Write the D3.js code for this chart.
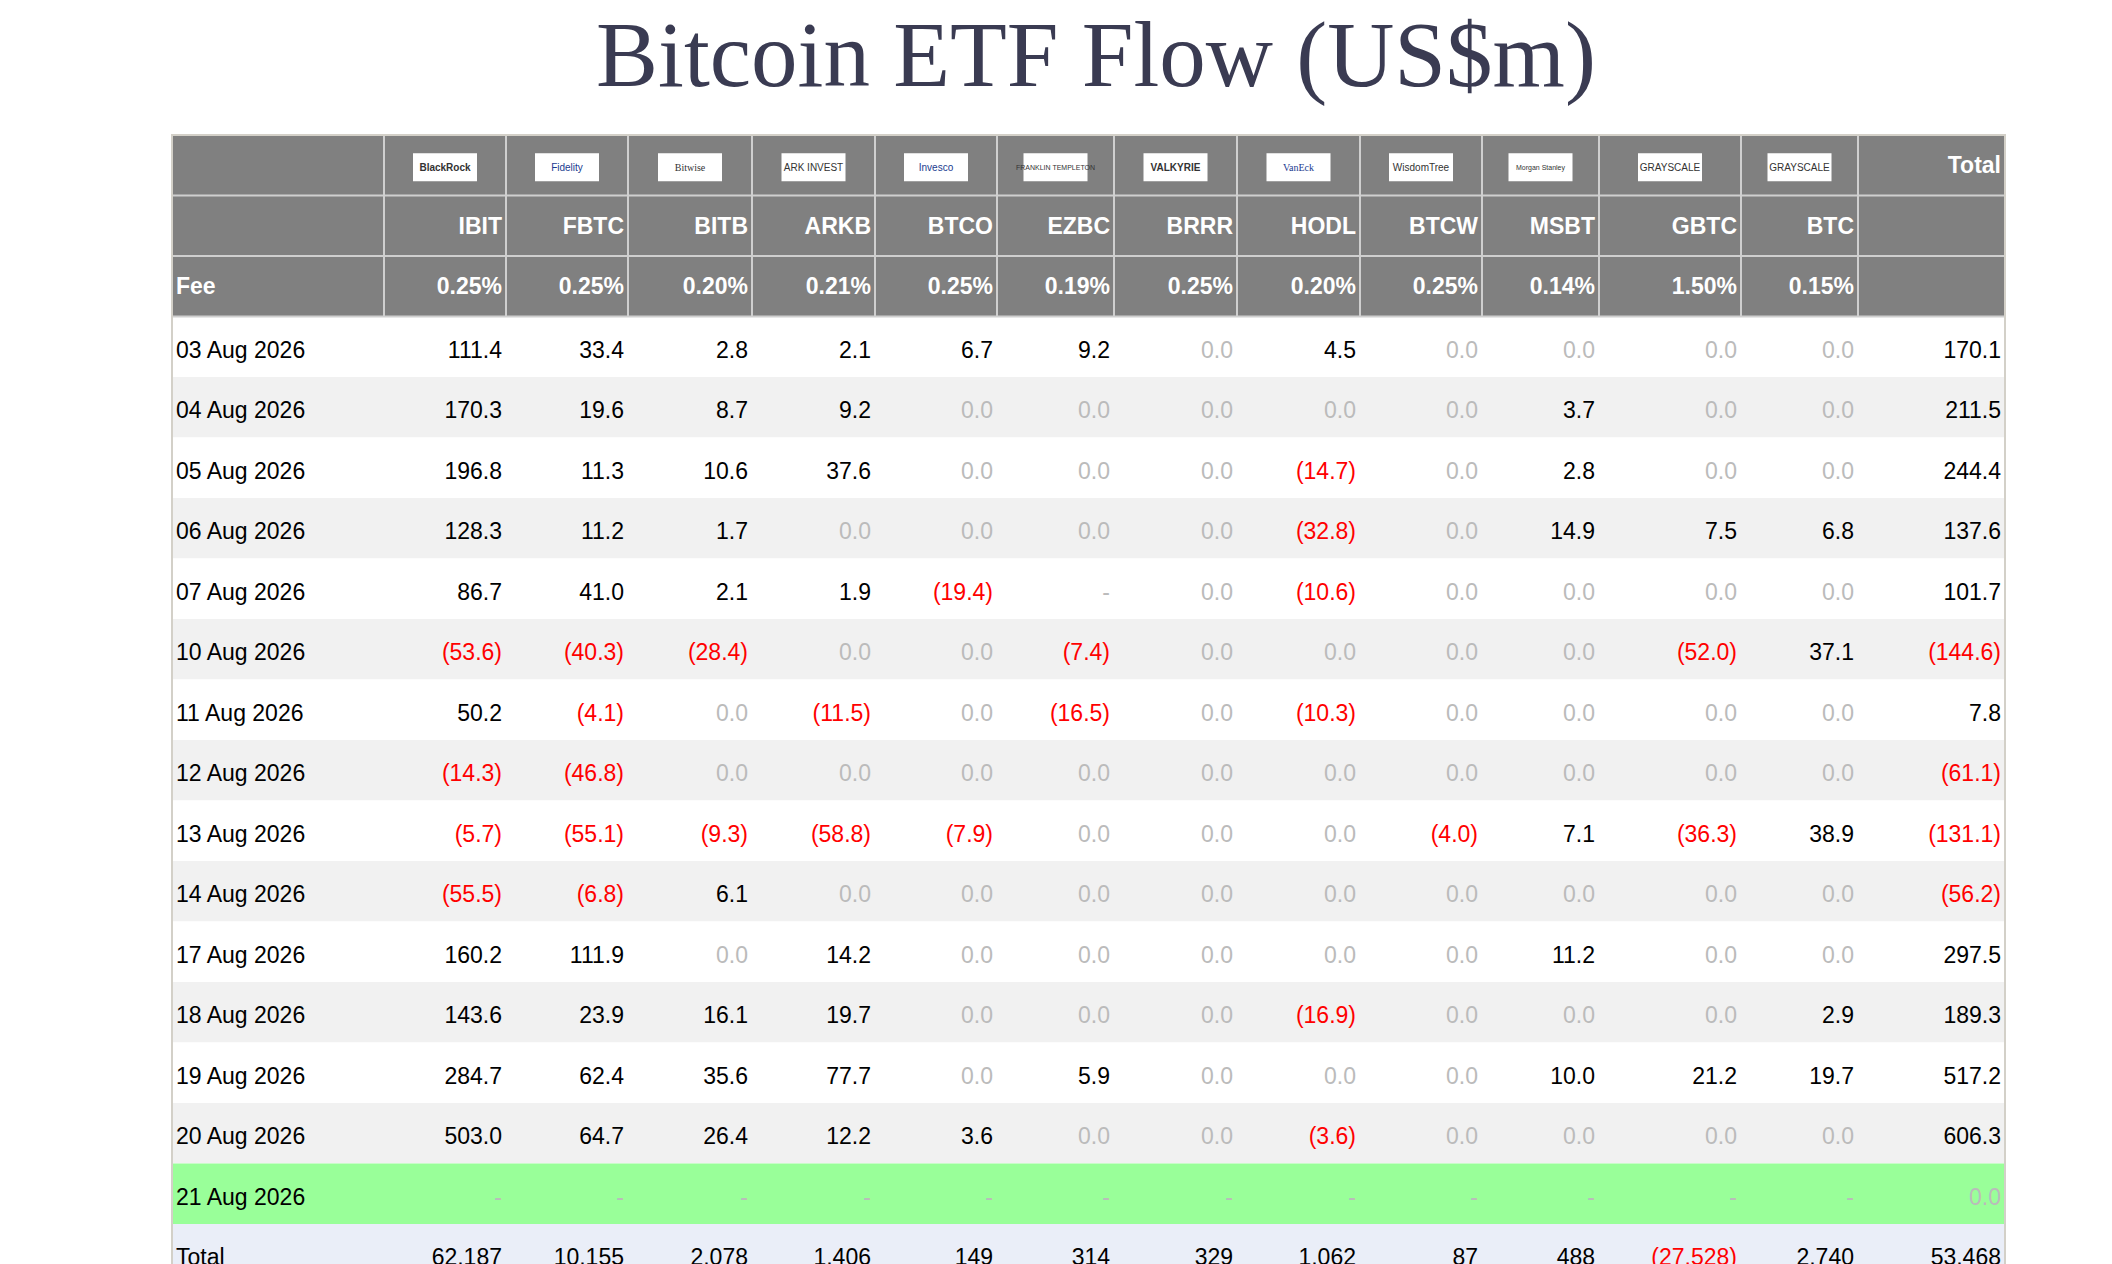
<!DOCTYPE html>
<html><head><meta charset="utf-8">
<script src="https://cdn.jsdelivr.net/npm/d3@7"></script>
<style>body{margin:0;background:#fff;} svg{display:block;}</style>
</head><body><div id="chart"></div>
<script>
var issuers = ["BlackRock","Fidelity","Bitwise","ARK INVEST","Invesco","FRANKLIN TEMPLETON","VALKYRIE","VanEck","WisdomTree","Morgan Stanley","GRAYSCALE","GRAYSCALE"];
var tickers = ["IBIT","FBTC","BITB","ARKB","BTCO","EZBC","BRRR","HODL","BTCW","MSBT","GBTC","BTC"];
var fees = ["0.25%","0.25%","0.20%","0.21%","0.25%","0.19%","0.25%","0.20%","0.25%","0.14%","1.50%","0.15%"];
var dates = ["03 Aug 2026","04 Aug 2026","05 Aug 2026","06 Aug 2026","07 Aug 2026","10 Aug 2026","11 Aug 2026","12 Aug 2026","13 Aug 2026","14 Aug 2026","17 Aug 2026","18 Aug 2026","19 Aug 2026","20 Aug 2026","21 Aug 2026"];
// null = "-"
var flows = [
  [111.4,33.4,2.8,2.1,6.7,9.2,0,4.5,0,0,0,0,170.1],
  [170.3,19.6,8.7,9.2,0,0,0,0,0,3.7,0,0,211.5],
  [196.8,11.3,10.6,37.6,0,0,0,-14.7,0,2.8,0,0,244.4],
  [128.3,11.2,1.7,0,0,0,0,-32.8,0,14.9,7.5,6.8,137.6],
  [86.7,41.0,2.1,1.9,-19.4,null,0,-10.6,0,0,0,0,101.7],
  [-53.6,-40.3,-28.4,0,0,-7.4,0,0,0,0,-52.0,37.1,-144.6],
  [50.2,-4.1,0,-11.5,0,-16.5,0,-10.3,0,0,0,0,7.8],
  [-14.3,-46.8,0,0,0,0,0,0,0,0,0,0,-61.1],
  [-5.7,-55.1,-9.3,-58.8,-7.9,0,0,0,-4.0,7.1,-36.3,38.9,-131.1],
  [-55.5,-6.8,6.1,0,0,0,0,0,0,0,0,0,-56.2],
  [160.2,111.9,0,14.2,0,0,0,0,0,11.2,0,0,297.5],
  [143.6,23.9,16.1,19.7,0,0,0,-16.9,0,0,0,2.9,189.3],
  [284.7,62.4,35.6,77.7,0,5.9,0,0,0,10.0,21.2,19.7,517.2],
  [503.0,64.7,26.4,12.2,3.6,0,0,-3.6,0,0,0,0,606.3],
  [null,null,null,null,null,null,null,null,null,null,null,null,0]
];
var totals = [62187,10155,2078,1406,149,314,329,1062,87,488,-27528,2740,53468];

var W = 2112, H = 1264;
var svg = d3.select("#chart").append("svg").attr("width", W).attr("height", H);

svg.append("text").attr("x", 1096).attr("y", 86).attr("text-anchor","middle")
  .style("font-family","Liberation Serif, serif").style("font-size","93px")
  .attr("fill","#3a3b52").text("Bitcoin ETF Flow (US$m)");

// column edges (layout)
var edges = [172,384,506,628,752,875,997,1114,1237,1360,1482,1599,1741,1858,2005];
var top0 = 135, rh = 60.5;
var nRows = 3 + dates.length + 1;
var y = d3.scaleLinear().domain([0, nRows]).range([top0, top0 + nRows*rh]);
var font = "Liberation Sans, Arial, sans-serif";

var rows = d3.range(nRows);
svg.selectAll("rect.row").data(rows).enter().append("rect")
  .attr("x", edges[0]).attr("width", edges[14]-edges[0])
  .attr("y", function(i){return y(i);}).attr("height", rh)
  .attr("fill", function(i){
    if (i < 3) return "#808080";
    if (i === nRows-1) return "#eaeef8";
    if (i === nRows-2) return "#99ff99";
    return (i-3) % 2 ? "#f1f1f1" : "#fff";
  });

var hg = svg.append("g").attr("stroke","#cfcfcf").attr("stroke-width",2);
edges.slice(1,-1).forEach(function(e){
  hg.append("line").attr("x1",e).attr("x2",e).attr("y1",y(0)).attr("y2",y(3));
});
[1,2,3].forEach(function(i){
  hg.append("line").attr("x1",edges[0]).attr("x2",edges[14]).attr("y1",y(i)).attr("y2",y(i));
});
svg.append("rect").attr("x",edges[0]).attr("y",y(0)).attr("width",edges[14]-edges[0])
  .attr("height",H).attr("fill","none").attr("stroke","#d3d0c8").attr("stroke-width",2);

issuers.forEach(function(name, i){
  var cx = (edges[i+1]+edges[i+2])/2;
  var g = svg.append("g").attr("transform","translate("+cx+","+(y(0)+rh/2+2)+")");
  g.append("rect").attr("x",-32).attr("y",-14).attr("width",64).attr("height",28).attr("fill","#fff");
  g.append("text").attr("text-anchor","middle").attr("dy","0.35em")
    .style("font-family", name==="Bitwise"||name==="VanEck"?"Liberation Serif, serif":font)
    .style("font-size", name.length>10 ? "7px" : "10px")
    .style("font-weight", name==="VALKYRIE"||name==="BlackRock"?"bold":"normal")
    .attr("fill", name==="Invesco"||name==="Fidelity"||name==="VanEck"?"#1a3b8f":"#333")
    .text(name);
});

function hdr(txt, col, row, anchor){
  svg.append("text").attr("x", anchor==="start" ? edges[col]+4 : edges[col+1]-4)
    .attr("y", y(row)+rh/2).attr("dy","0.35em").attr("text-anchor", anchor||"end")
    .style("font-family",font).style("font-size","23px").style("font-weight","bold")
    .attr("fill","#fff").text(txt);
}
hdr("Total", 13, 0);
tickers.forEach(function(t,i){ hdr(t, i+1, 1); });
hdr("Fee", 0, 2, "start");
fees.forEach(function(t,i){ hdr(t, i+1, 2); });

function fmt(v, isTotal){
  if (v === null) return "-";
  var f = isTotal ? d3.format(",.0f") : d3.format(".1f");
  return v < 0 ? "(" + f(-v) + ")" : f(v);
}
function color(v){
  if (v === null || v === 0) return "#bbbbbb";
  return v < 0 ? "#ff0000" : "#000";
}
function drawRow(label, vals, row, isTotal){
  svg.append("text").attr("x", edges[0]+4).attr("y", y(row)+rh/2+3).attr("dy","0.35em")
    .style("font-family",font).style("font-size","23px").attr("fill","#000").text(label);
  svg.selectAll(null).data(vals).enter().append("text")
    .attr("x", function(d,i){return edges[i+2]-4;})
    .attr("y", y(row)+rh/2+3).attr("dy","0.35em").attr("text-anchor","end")
    .style("font-family",font).style("font-size","23px")
    .attr("fill", function(d){return isTotal && d!==null ? (d<0?"#ff0000":"#000") : color(d);})
    .text(function(d){return fmt(d, isTotal);});
}
dates.forEach(function(d,i){ drawRow(d, flows[i], 3+i, false); });
drawRow("Total", totals, nRows-1, true);
</script></body></html>
